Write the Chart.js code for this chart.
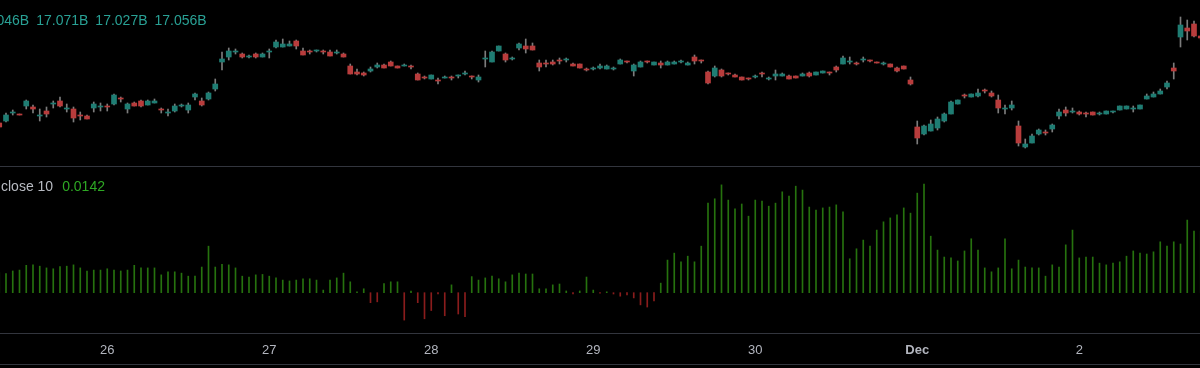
<!DOCTYPE html>
<html>
<head>
<meta charset="utf-8">
<script src="https://cdn.jsdelivr.net/npm/chart.js@4/dist/chart.umd.min.js"></script>
<style>
  html, body { margin: 0; padding: 0; background: #000; }
  #wrap { position: relative; width: 1200px; height: 368px; overflow: hidden; background: #000;
          font-family: "Liberation Sans", Arial, sans-serif; }
  canvas { position: absolute; left: 0; }
  #priceChart { top: 0; }
  #oscChart { top: 167px; }
  .sep { position: absolute; left: 0; width: 1200px; height: 1px; background: #32353d; }
  .legend { position: absolute; font-size: 14px; line-height: 16px; white-space: nowrap; }
  .legend span { margin-right: 7px; }
</style>
</head>
<body>
<div id="wrap">
  <canvas id="priceChart" width="1200" height="166"></canvas>
  <div class="sep" style="top:166px"></div>
  <canvas id="oscChart" width="1200" height="201"></canvas>
  <div class="sep" style="top:333px"></div>
  <div class="sep" style="top:364px"></div>
  <div class="legend" style="left:-23px; top:12px; color:#29a195">
    <span>17.046B</span><span>17.071B</span><span>17.027B</span><span>17.056B</span>
  </div>
  <div class="legend" style="left:1px; top:178px; color:#b8bbc2">
    <span style="margin-right:9px">close 10</span><span style="color:#2ea824">0.0142</span>
  </div>
</div>
<script>
// hourly bars, index 0 = first hour on screen
const tickHours = [16, 40, 64, 88, 112, 136, 160];
const tickLabels = ['26', '27', '28', '29', '30', 'Dec', '2'];

const openP = [
  16.884,16.888,16.904,16.902,16.918,16.916,16.898,16.908,16.922,16.928,
  16.912,16.912,16.900,16.898,16.914,16.916,16.918,16.922,16.934,16.912,
  16.924,16.928,16.920,16.924,16.912,16.904,16.908,16.918,16.910,16.936,
  16.928,16.932,16.952,17.006,17.016,17.026,17.022,17.016,17.022,17.016,
  17.026,17.036,17.036,17.038,17.048,17.028,17.028,17.028,17.028,17.026,
  17.024,17.022,16.998,16.986,16.984,16.988,16.996,17.000,17.006,16.998,
  16.998,16.998,16.982,16.976,16.972,16.970,16.974,16.976,16.978,16.982,
  16.978,16.970,17.012,17.006,17.028,17.022,17.012,17.034,17.038,17.038,
  17.004,17.004,17.006,17.010,17.010,17.002,17.002,16.992,16.992,16.994,
  16.992,16.992,17.002,17.008,16.988,16.996,17.008,17.000,17.004,17.000,
  17.002,17.006,17.000,17.016,17.010,16.986,16.978,16.990,16.984,16.980,
  16.976,16.974,16.976,16.984,16.972,16.978,16.978,16.978,16.978,16.978,
  16.984,16.980,16.984,16.986,16.996,17.002,17.006,17.004,17.010,17.010,
  17.006,17.002,17.002,16.994,16.998,16.970,16.876,16.862,16.868,16.874,
  16.888,16.902,16.922,16.940,16.936,16.938,16.950,16.944,16.930,16.912,
  16.914,16.878,16.836,16.844,16.862,16.866,16.872,16.898,16.910,16.906,
  16.906,16.904,16.906,16.902,16.902,16.906,16.910,16.912,16.912,16.912,
  16.932,16.936,16.942,16.956,16.994,17.056,17.074,17.082,17.058
];
const highP = [
  16.886,16.904,16.910,16.902,16.930,16.920,16.912,16.916,16.928,16.936,
  16.922,16.916,16.906,16.900,16.926,16.924,16.922,16.942,16.936,16.924,
  16.926,16.930,16.930,16.932,16.914,16.912,16.922,16.922,16.924,16.944,
  16.934,16.946,16.972,17.026,17.034,17.032,17.024,17.020,17.024,17.024,
  17.032,17.050,17.052,17.048,17.050,17.034,17.030,17.030,17.030,17.030,
  17.030,17.024,17.002,16.992,16.986,16.996,17.004,17.002,17.008,16.998,
  17.002,17.000,16.984,16.978,16.980,16.974,16.978,16.978,16.980,16.988,
  16.978,16.980,17.028,17.028,17.038,17.024,17.016,17.044,17.052,17.044,
  17.010,17.010,17.010,17.014,17.014,17.004,17.002,16.994,16.996,17.002,
  17.000,16.996,17.012,17.008,17.002,17.008,17.008,17.006,17.008,17.008,
  17.008,17.010,17.006,17.020,17.010,16.988,16.998,16.992,16.984,16.982,
  16.976,16.974,16.980,16.986,16.976,16.990,16.984,16.980,16.978,16.984,
  16.986,16.986,16.988,16.986,16.998,17.018,17.016,17.006,17.016,17.010,
  17.006,17.006,17.002,16.996,16.998,16.976,16.888,16.880,16.890,16.896,
  16.904,16.928,16.930,16.942,16.942,16.952,16.952,16.948,16.940,16.920,
  16.928,16.888,16.852,16.862,16.872,16.870,16.882,16.912,16.916,16.914,
  16.908,16.906,16.906,16.906,16.908,16.908,16.918,16.918,16.918,16.920,
  16.942,16.946,16.952,16.968,17.004,17.096,17.090,17.088,17.060
];
const lowP = [
  16.874,16.886,16.900,16.900,16.912,16.904,16.888,16.896,16.914,16.916,
  16.906,16.886,16.890,16.892,16.906,16.908,16.908,16.920,16.926,16.904,
  16.918,16.916,16.920,16.924,16.904,16.898,16.906,16.916,16.904,16.930,
  16.918,16.930,16.948,16.990,17.010,17.022,17.014,17.014,17.014,17.016,
  17.014,17.034,17.036,17.038,17.032,17.020,17.022,17.026,17.022,17.018,
  17.022,17.016,16.982,16.980,16.978,16.986,16.994,16.994,16.998,16.994,
  16.998,16.992,16.970,16.972,16.972,16.962,16.974,16.970,16.974,16.980,
  16.972,16.966,16.996,17.006,17.028,17.006,17.010,17.030,17.024,17.030,
  16.988,16.996,17.000,17.002,17.006,16.998,16.994,16.988,16.990,16.992,
  16.992,16.990,17.002,17.004,16.978,16.996,17.004,17.000,16.994,17.000,
  17.002,17.004,17.000,17.002,17.004,16.962,16.976,16.976,16.980,16.976,
  16.970,16.970,16.974,16.976,16.970,16.970,16.978,16.972,16.974,16.978,
  16.976,16.980,16.984,16.980,16.986,17.002,17.002,17.000,17.006,17.006,
  17.004,17.000,16.996,16.986,16.992,16.960,16.842,16.860,16.868,16.870,
  16.886,16.902,16.922,16.934,16.936,16.936,16.944,16.936,16.904,16.902,
  16.910,16.838,16.834,16.844,16.860,16.860,16.866,16.892,16.898,16.904,
  16.900,16.896,16.900,16.900,16.902,16.904,16.910,16.912,16.906,16.912,
  16.932,16.936,16.942,16.952,16.972,17.036,17.050,17.056,17.050
];
const closeP = [
  16.876,16.900,16.906,16.900,16.928,16.912,16.900,16.902,16.924,16.918,
  16.914,16.894,16.898,16.892,16.922,16.918,16.916,16.940,16.932,16.922,
  16.918,16.918,16.928,16.928,16.910,16.906,16.918,16.920,16.920,16.942,
  16.920,16.944,16.962,17.012,17.028,17.028,17.016,17.018,17.016,17.022,
  17.028,17.046,17.042,17.042,17.038,17.020,17.026,17.030,17.026,17.018,
  17.026,17.016,16.982,16.982,16.980,16.992,17.000,16.994,16.998,16.994,
  17.000,16.996,16.970,16.974,16.980,16.968,16.976,16.974,16.980,16.984,
  16.976,16.976,17.014,17.026,17.038,17.010,17.014,17.042,17.032,17.030,
  16.996,17.002,17.002,17.008,17.012,16.998,16.994,16.990,16.994,16.998,
  16.998,16.994,17.010,17.006,17.000,17.006,17.006,17.006,17.000,17.006,
  17.006,17.008,17.004,17.008,17.008,16.964,16.994,16.978,16.982,16.976,
  16.970,16.972,16.978,16.982,16.974,16.982,16.982,16.972,16.974,16.982,
  16.978,16.986,16.988,16.984,16.990,17.014,17.008,17.002,17.012,17.008,
  17.004,17.004,16.996,16.988,16.992,16.962,16.854,16.878,16.882,16.892,
  16.902,16.926,16.930,16.938,16.942,16.944,16.948,16.938,16.914,16.914,
  16.920,16.844,16.842,16.858,16.870,16.864,16.880,16.906,16.904,16.908,
  16.902,16.902,16.900,16.904,16.908,16.908,16.918,16.918,16.914,16.920,
  16.938,16.942,16.948,16.964,16.988,17.080,17.068,17.058,17.054
];
// "close 10" oscillator
const oscValues = [
  0.0046,0.0044,0.0050,0.0052,0.0063,0.0064,0.0061,0.0057,0.0055,0.0060,
  0.0061,0.0064,0.0057,0.0050,0.0052,0.0052,0.0055,0.0052,0.0050,0.0052,
  0.0063,0.0057,0.0057,0.0057,0.0041,0.0048,0.0048,0.0045,0.0038,0.0038,
  0.0059,0.0107,0.0059,0.0065,0.0064,0.0057,0.0038,0.0036,0.0041,0.0042,
  0.0038,0.0034,0.0029,0.0027,0.0029,0.0032,0.0032,0.0029,0.0006,0.0029,
  0.0034,0.0045,0.0025,0.0002,0.0009,-0.0023,-0.0021,0.0021,0.0025,0.0025,
  -0.0063,0.0004,-0.0023,-0.0060,-0.0041,-0.0003,-0.0053,0.0018,-0.0049,-0.0055,
  0.0037,0.0029,0.0034,0.0038,0.0032,0.0025,0.0041,0.0045,0.0043,0.0043,
  0.0009,0.0009,0.0018,0.0020,0.0004,-0.0003,0.0004,0.0036,0.0006,-0.0001,
  0.0002,-0.0003,-0.0008,-0.0005,-0.0012,-0.0028,-0.0033,-0.0019,0.0022,0.0075,
  0.0091,0.0071,0.0084,0.0071,0.0107,0.0206,0.0216,0.0248,0.0213,0.0193,
  0.0204,0.0176,0.0213,0.0211,0.0199,0.0206,0.0232,0.0222,0.0245,0.0236,
  0.0197,0.0190,0.0195,0.0197,0.0202,0.0186,0.0078,0.0101,0.0121,0.0107,
  0.0144,0.0163,0.0172,0.0179,0.0195,0.0183,0.0229,0.0250,0.0130,0.0098,
  0.0082,0.0080,0.0073,0.0096,0.0124,0.0098,0.0057,0.0048,0.0057,0.0124,
  0.0055,0.0075,0.0059,0.0057,0.0057,0.0038,0.0064,0.0059,0.0110,0.0144,
  0.0080,0.0082,0.0082,0.0068,0.0064,0.0068,0.0071,0.0084,0.0096,0.0091,
  0.0089,0.0094,0.0117,0.0107,0.0117,0.0112,0.0167,0.0142,0.0142
];

const upColor = '#1f7d73';
const downColor = '#b83c3c';
const wickColor = '#7c7c7c';
const xMin = 0.111, xMax = 177.889;

var bodies = [], wicks = [], bodyColors = [];
for (var i = 0; i < openP.length; i++) {
  bodies.push({ x: i, y: [openP[i], closeP[i]] });
  wicks.push({ x: i, y: [lowP[i], highP[i]] });
  bodyColors.push(closeP[i] >= openP[i] ? upColor : downColor);
}
var osc = [], oscColors = [];
for (var j = 0; j < oscValues.length; j++) {
  osc.push({ x: j, y: oscValues[j] });
  oscColors.push(oscValues[j] >= 0 ? '#26720e' : '#8a1c1c');
}

const hiddenX = { type: 'linear', min: xMin, max: xMax, offset: false, display: false, grid: { offset: false } };

new Chart(document.getElementById('priceChart'), {
  type: 'bar',
  data: {
    datasets: [
      { data: bodies, backgroundColor: bodyColors, barThickness: 5, minBarLength: 1, order: 0 },
      { data: wicks, backgroundColor: wickColor, barThickness: 1, order: 1 }
    ]
  },
  options: {
    responsive: false, animation: false, devicePixelRatio: 1,
    layout: { padding: 0 },
    datasets: { bar: { grouped: false } },
    plugins: { legend: { display: false }, tooltip: { enabled: false } },
    scales: {
      x: hiddenX,
      y: { display: false, min: 16.798, max: 17.13 }
    }
  }
});

new Chart(document.getElementById('oscChart'), {
  type: 'bar',
  data: { datasets: [{ data: osc, backgroundColor: oscColors, barThickness: 1 }] },
  options: {
    responsive: false, animation: false, devicePixelRatio: 1,
    layout: { padding: 0 },
    plugins: { legend: { display: false }, tooltip: { enabled: false } },
    scales: {
      x: {
        type: 'linear', min: xMin, max: xMax, offset: false,
        grid: { display: false, offset: false },
        border: { display: false },
        afterBuildTicks: function (scale) {
          scale.ticks = tickHours.map(function (h) { return { value: h }; });
        },
        afterFit: function (scale) { scale.height = 35; },
        ticks: {
          autoSkip: false, maxRotation: 0, padding: 2, color: '#b2b5be',
          font: function (ctx) {
            return { family: 'Liberation Sans', size: 13, weight: tickLabels[ctx.index] === 'Dec' ? 'bold' : 'normal' };
          },
          callback: function (value) { return tickLabels[tickHours.indexOf(value)]; }
        }
      },
      y: { display: false, min: -0.00927, max: 0.02891 }
    }
  }
});
</script>
</body>
</html>
